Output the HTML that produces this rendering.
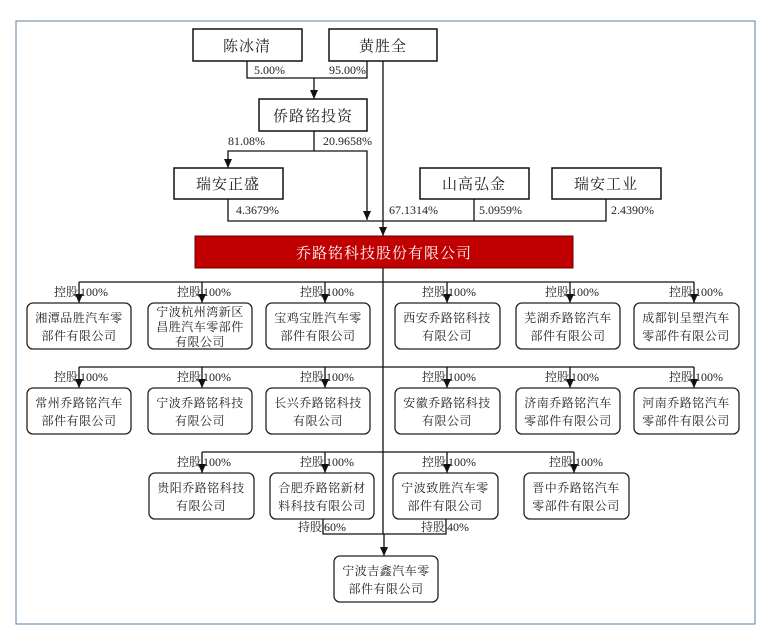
<!DOCTYPE html>
<html><head><meta charset="utf-8"><style>
html,body{margin:0;padding:0;background:#fff;}
svg{display:block;}
.c{font-family:"Liberation Serif","Noto Serif CJK SC",serif;font-size:12px;fill:#222;text-anchor:middle;letter-spacing:0.5px;}
.t{font-family:"Liberation Serif","Noto Serif CJK SC",serif;font-size:15px;fill:#222;text-anchor:middle;letter-spacing:1px;}
.p{font-family:"Liberation Serif","Noto Serif CJK SC",serif;font-size:12px;fill:#222;}
.e{text-anchor:end;}
</style></head><body>
<svg width="764" height="637" viewBox="0 0 764 637" xmlns="http://www.w3.org/2000/svg">
<defs>
<marker id="d" markerWidth="8" markerHeight="9" refX="4" refY="9" markerUnits="userSpaceOnUse"><path d="M0,0 L8,0 L4,9 Z" fill="#111"/></marker></defs>
<rect x="16" y="21" width="739" height="603" fill="none" stroke="#5a7fa0" stroke-width="1"/>
<g stroke="#111" stroke-width="1.5" fill="#fff">
<rect x="193" y="29" width="109" height="32"/>
<rect x="329" y="29" width="108" height="32"/>
<rect x="259" y="99" width="108" height="32"/>
<rect x="174" y="168" width="109" height="31"/>
<rect x="420" y="168" width="109" height="31"/>
<rect x="552" y="168" width="109" height="31"/>
</g>
<rect x="195" y="236" width="378" height="32" fill="#c00000" stroke="#600" stroke-width="1"/>
<g stroke="#111" stroke-width="1.3" fill="none">
<path d="M247,61 V78 H367 V61"/>
<path d="M314,78 V99" marker-end="url(#d)"/>
<path d="M314,131 V151 H228 V168" marker-end="url(#d)"/>
<path d="M314,151 H367 V220" marker-end="url(#d)"/>
<path d="M228,199 V221 H606 V199"/>
<path d="M474,199 V221"/>
<path d="M383,61 V236" marker-end="url(#d)"/>
<path d="M383,268 V534"/>
<path d="M79,282 H694"/>
<path d="M79,367 H694"/>
<path d="M202,452 H574"/>
<path d="M79,282V303" marker-end="url(#d)"/><path d="M202,282V303" marker-end="url(#d)"/><path d="M325,282V303" marker-end="url(#d)"/><path d="M447,282V303" marker-end="url(#d)"/><path d="M570,282V303" marker-end="url(#d)"/><path d="M694,282V303" marker-end="url(#d)"/>
<path d="M79,367V388" marker-end="url(#d)"/><path d="M202,367V388" marker-end="url(#d)"/><path d="M325,367V388" marker-end="url(#d)"/><path d="M447,367V388" marker-end="url(#d)"/><path d="M570,367V388" marker-end="url(#d)"/><path d="M694,367V388" marker-end="url(#d)"/>
<path d="M202,452V473" marker-end="url(#d)"/><path d="M325,452V473" marker-end="url(#d)"/><path d="M447,452V473" marker-end="url(#d)"/><path d="M574,452V473" marker-end="url(#d)"/>
<path d="M323,519V534H446V519"/>
<path d="M384,534V556" marker-end="url(#d)"/>
</g>
<g stroke="#222" stroke-width="1.3" fill="#fff">
<rect x="27" y="303" width="104" height="46" rx="6"/><rect x="148" y="303" width="104" height="46" rx="6"/><rect x="266" y="303" width="104" height="46" rx="6"/><rect x="395" y="303" width="105" height="46" rx="6"/><rect x="516" y="303" width="104" height="46" rx="6"/><rect x="634" y="303" width="105" height="46" rx="6"/>
<rect x="27" y="388" width="104" height="46" rx="6"/><rect x="148" y="388" width="104" height="46" rx="6"/><rect x="266" y="388" width="104" height="46" rx="6"/><rect x="395" y="388" width="105" height="46" rx="6"/><rect x="516" y="388" width="104" height="46" rx="6"/><rect x="634" y="388" width="105" height="46" rx="6"/>
<rect x="149" y="473" width="105" height="46" rx="6"/><rect x="270" y="473" width="104" height="46" rx="6"/><rect x="393" y="473" width="105" height="46" rx="6"/><rect x="524" y="473" width="105" height="46" rx="6"/>
<rect x="334" y="556" width="104" height="46" rx="6"/>
</g>
<g class="t">
<text x="247" y="51">陈冰清</text><text x="383" y="51">黄胜全</text>
<text x="313" y="121">侨路铭投资</text><text x="228" y="189">瑞安正盛</text>
<text x="474" y="189">山高弘金</text><text x="606" y="189">瑞安工业</text>
<text x="384" y="258" style="fill:#fff">乔路铭科技股份有限公司</text>
</g>
<g class="p">
<text x="254" y="74">5.00%</text><text x="329" y="74">95.00%</text>
<text x="228" y="145">81.08%</text><text x="323" y="145">20.9658%</text>
<text x="236" y="214">4.3679%</text><text x="389" y="214">67.1314%</text><text x="479" y="214">5.0959%</text><text x="611" y="214">2.4390%</text>
</g>
<g class="p">
<text class="e" x="78" y="296">控股</text><text x="80" y="296">100%</text>
<text class="e" x="201" y="296">控股</text><text x="203" y="296">100%</text>
<text class="e" x="324" y="296">控股</text><text x="326" y="296">100%</text>
<text class="e" x="446" y="296">控股</text><text x="448" y="296">100%</text>
<text class="e" x="569" y="296">控股</text><text x="571" y="296">100%</text>
<text class="e" x="693" y="296">控股</text><text x="695" y="296">100%</text>
<text class="e" x="78" y="381">控股</text><text x="80" y="381">100%</text>
<text class="e" x="201" y="381">控股</text><text x="203" y="381">100%</text>
<text class="e" x="324" y="381">控股</text><text x="326" y="381">100%</text>
<text class="e" x="446" y="381">控股</text><text x="448" y="381">100%</text>
<text class="e" x="569" y="381">控股</text><text x="571" y="381">100%</text>
<text class="e" x="693" y="381">控股</text><text x="695" y="381">100%</text>
<text class="e" x="201" y="466">控股</text><text x="203" y="466">100%</text>
<text class="e" x="324" y="466">控股</text><text x="326" y="466">100%</text>
<text class="e" x="446" y="466">控股</text><text x="448" y="466">100%</text>
<text class="e" x="573" y="466">控股</text><text x="575" y="466">100%</text>
<text class="e" x="322" y="531">持股</text><text x="324" y="531">60%</text>
<text class="e" x="445" y="531">持股</text><text x="447" y="531">40%</text>
</g>
<g class="c">
<text x="79" y="322">湘潭品胜汽车零</text><text x="79" y="340">部件有限公司</text>
<text x="200" y="316">宁波杭州湾新区</text><text x="200" y="331">昌胜汽车零部件</text><text x="200" y="346">有限公司</text>
<text x="318" y="322">宝鸡宝胜汽车零</text><text x="318" y="340">部件有限公司</text>
<text x="447" y="322">西安乔路铭科技</text><text x="447" y="340">有限公司</text>
<text x="568" y="322">芜湖乔路铭汽车</text><text x="568" y="340">部件有限公司</text>
<text x="686" y="322">成都钊呈塑汽车</text><text x="686" y="340">零部件有限公司</text>
<text x="79" y="407">常州乔路铭汽车</text><text x="79" y="425">部件有限公司</text>
<text x="200" y="407">宁波乔路铭科技</text><text x="200" y="425">有限公司</text>
<text x="318" y="407">长兴乔路铭科技</text><text x="318" y="425">有限公司</text>
<text x="447" y="407">安徽乔路铭科技</text><text x="447" y="425">有限公司</text>
<text x="568" y="407">济南乔路铭汽车</text><text x="568" y="425">零部件有限公司</text>
<text x="686" y="407">河南乔路铭汽车</text><text x="686" y="425">零部件有限公司</text>
<text x="201" y="492">贵阳乔路铭科技</text><text x="201" y="510">有限公司</text>
<text x="322" y="492">合肥乔路铭新材</text><text x="322" y="510">料科技有限公司</text>
<text x="445" y="492">宁波致胜汽车零</text><text x="445" y="510">部件有限公司</text>
<text x="576" y="492">晋中乔路铭汽车</text><text x="576" y="510">零部件有限公司</text>
<text x="386" y="575">宁波吉鑫汽车零</text><text x="386" y="593">部件有限公司</text>
</g>
</svg>
</body></html>
